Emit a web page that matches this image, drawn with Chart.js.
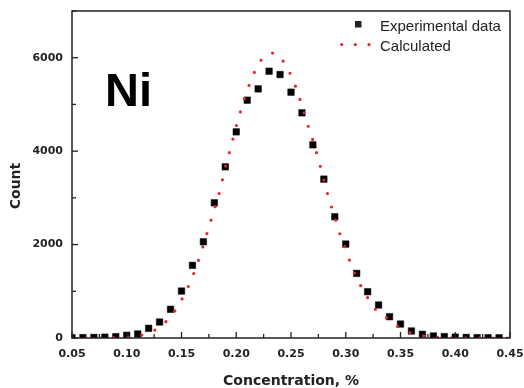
<!DOCTYPE html>
<html>
<head>
<meta charset="utf-8">
<script src="https://cdn.jsdelivr.net/npm/chart.js@4/dist/chart.umd.min.js"></script>
<style>
  html, body { margin: 0; padding: 0; background: #ffffff; }
  #wrap { width: 524px; height: 388px; position: relative; }
</style>
</head>
<body>
<div id="wrap"><canvas id="chart" width="524" height="388"></canvas></div>
<script>
// Ni concentration histogram: measured counts and the fitted distribution
const concentration = [0.05, 0.06, 0.07, 0.08, 0.09, 0.10, 0.11, 0.12, 0.13, 0.14,
  0.15, 0.16, 0.17, 0.18, 0.19, 0.20, 0.21, 0.22, 0.23, 0.24,
  0.25, 0.26, 0.27, 0.28, 0.29, 0.30, 0.31, 0.32, 0.33, 0.34,
  0.35, 0.36, 0.37, 0.38, 0.39, 0.40, 0.41, 0.42, 0.43, 0.44];
const experimentalCount = [5, 8, 12, 18, 28, 58, 86, 207, 342, 614,
  1005, 1555, 2060, 2894, 3664, 4413, 5091, 5333, 5711, 5640,
  5262, 4820, 4135, 3401, 2595, 2011, 1383, 991, 706, 456,
  299, 150, 79, 43, 30, 18, 12, 8, 6, 5];

const calcConcentration = [0.050, 0.055, 0.060, 0.065, 0.070, 0.075, 0.080, 0.085, 0.090, 0.095,
  0.100, 0.105, 0.110, 0.115, 0.120, 0.125, 0.130, 0.135, 0.140, 0.145,
  0.150, 0.155, 0.160, 0.165, 0.170, 0.175, 0.180, 0.185, 0.190, 0.195,
  0.200, 0.205, 0.210, 0.215, 0.220, 0.225, 0.230, 0.235, 0.240, 0.245,
  0.250, 0.255, 0.260, 0.265, 0.270, 0.275, 0.280, 0.285, 0.290, 0.295,
  0.300, 0.305, 0.310, 0.315, 0.320, 0.325, 0.330, 0.335, 0.340, 0.345,
  0.350, 0.355, 0.360, 0.365, 0.370, 0.375, 0.380, 0.385, 0.390, 0.395,
  0.400, 0.410, 0.420, 0.430, 0.440, 0.450];
const calcCount = [0, 0, 1, 1, 2, 2, 3, 5, 7, 11,
  17, 28, 45, 70, 108, 160, 235, 330, 465, 615,
  815, 1040, 1310, 1630, 1990, 2370, 2757, 3150, 3650, 4080,
  4537, 4935, 5300, 5600, 5850, 6010, 6085, 6100, 6010, 5850,
  5620, 5330, 4970, 4590, 4230, 3830, 3380, 2950, 2585, 2200,
  1900, 1560, 1290, 1060, 860, 670, 550, 470, 380, 285,
  210, 150, 108, 75, 50, 33, 21, 13, 8, 5,
  3, 1, 1, 0, 0, 0];

const xMin = 0.05, xMax = 0.45, xStep = 0.025;
const yMin = 0, yMax = 7000, yStep = 1000;
const seriesNames = ['Experimental data', 'Calculated'];
const xTitle = 'Concentration, %';
const yTitle = 'Count';
const elementLabel = 'Ni';

const INK = '#222222';
const RED = '#e3262f';
const TICK_FONT = { family: 'DejaVu Sans', size: 11, weight: 'bold' };

const expPoints = concentration.map((x, i) => ({ x, y: experimentalCount[i] }));
const calcPoints = calcConcentration.map((x, i) => ({ x, y: calcCount[i] }));

// Frame, inward ticks, legend and annotations
const decorations = {
  id: 'decorations',
  afterDraw(chart) {
    const { ctx, chartArea: a, scales } = chart;
    ctx.save();
    ctx.strokeStyle = INK;
    ctx.lineWidth = 1.5;
    ctx.strokeRect(a.left, a.top, a.right - a.left, a.bottom - a.top);

    ctx.lineWidth = 1.3;
    scales.x.ticks.forEach((t, i) => {
      const px = scales.x.getPixelForValue(t.value);
      const len = i % 2 === 0 ? 6 : 4;
      ctx.beginPath();
      ctx.moveTo(px, a.bottom);
      ctx.lineTo(px, a.bottom - len);
      ctx.stroke();
    });
    scales.y.ticks.forEach((t, i) => {
      const py = scales.y.getPixelForValue(t.value);
      const len = i % 2 === 0 ? 6 : 4;
      ctx.beginPath();
      ctx.moveTo(a.left, py);
      ctx.lineTo(a.left + len, py);
      ctx.stroke();
    });

    // legend
    ctx.fillStyle = INK;
    ctx.fillRect(355, 21, 6.5, 6.5);
    ctx.fillStyle = RED;
    [341.7, 355.3, 369].forEach(x => {
      ctx.beginPath();
      ctx.arc(x, 44.6, 1.6, 0, Math.PI * 2);
      ctx.fill();
    });
    ctx.fillStyle = INK;
    ctx.font = '15px "Liberation Sans"';
    ctx.textAlign = 'left';
    ctx.textBaseline = 'alphabetic';
    ctx.fillText(seriesNames[0], 380, 30.5);
    ctx.fillText(seriesNames[1], 380, 50.5);

    // element label
    ctx.fillStyle = '#000000';
    ctx.font = 'bold 47px "Liberation Sans"';
    ctx.fillText(elementLabel, 105, 106);

    // y axis title
    ctx.fillStyle = INK;
    ctx.font = 'bold 14px "DejaVu Sans"';
    ctx.translate(16, 186);
    ctx.rotate(-Math.PI / 2);
    ctx.textAlign = 'center';
    ctx.textBaseline = 'middle';
    ctx.fillText(yTitle, 0, 0);
    ctx.restore();
  }
};

new Chart(document.getElementById('chart'), {
  type: 'scatter',
  data: {
    datasets: [
      {
        label: seriesNames[1],
        data: calcPoints,
        showLine: true,
        borderColor: RED,
        backgroundColor: RED,
        borderWidth: 3.2,
        borderDash: [0, 14],
        borderCapStyle: 'round',
        cubicInterpolationMode: 'monotone',
        pointRadius: 0,
        pointHoverRadius: 0
      },
      {
        label: seriesNames[0],
        data: expPoints,
        showLine: false,
        pointStyle: 'rect',
        pointRadius: 4.6,
        pointBorderWidth: 0.5,
        pointBackgroundColor: '#000000',
        pointBorderColor: '#000000'
      }
    ]
  },
  options: {
    responsive: false,
    animation: false,
    devicePixelRatio: 1,
    layout: { padding: { left: 0, top: 11, right: 14, bottom: 0 } },
    plugins: {
      legend: { display: false },
      tooltip: { enabled: false }
    },
    scales: {
      x: {
        type: 'linear',
        min: xMin,
        max: xMax,
        grid: { display: false, drawTicks: false },
        border: { display: false },
        ticks: {
          stepSize: xStep,
          autoSkip: false,
          maxRotation: 0,
          padding: 10,
          color: INK,
          font: TICK_FONT,
          callback: (v, i) => (i % 2 === 0 ? Number(v).toFixed(2) : '')
        },
        title: {
          display: true,
          text: xTitle,
          color: INK,
          font: { family: 'DejaVu Sans', size: 14, weight: 'bold' },
          padding: { top: 0, bottom: -2 }
        },
        afterFit(scale) {
          scale.height = 50;
          scale.paddingLeft = 0;
          scale.paddingRight = 0;
        }
      },
      y: {
        type: 'linear',
        min: yMin,
        max: yMax,
        grid: { display: false, drawTicks: false },
        border: { display: false },
        ticks: {
          stepSize: yStep,
          autoSkip: false,
          padding: 9,
          color: INK,
          font: TICK_FONT,
          callback: (v) => (v % 2000 === 0 ? String(v) : '')
        },
        afterFit(scale) {
          scale.width = 72;
          scale.paddingTop = 0;
          scale.paddingBottom = 0;
        }
      }
    }
  },
  plugins: [decorations]
});
</script>
</body>
</html>
